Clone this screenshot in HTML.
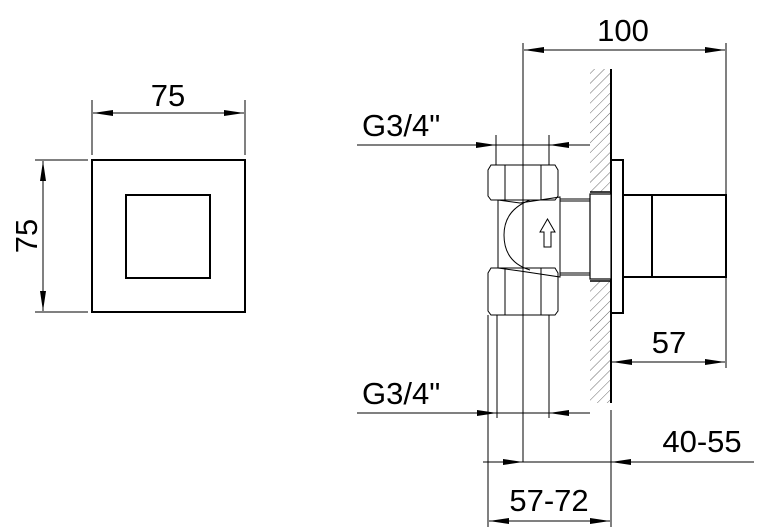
<!DOCTYPE html>
<html><head><style>
html,body{margin:0;padding:0;background:#fff;}
svg{display:block;}
text{font-family:"Liberation Sans",sans-serif;fill:#000;}
</style></head><body>
<svg width="762" height="527" viewBox="0 0 762 527" xmlns="http://www.w3.org/2000/svg">
<defs>
<marker id="a" viewBox="0 0 20 6" refX="20" refY="3" markerWidth="20" markerHeight="6" markerUnits="userSpaceOnUse" orient="auto-start-reverse">
<path d="M0,0 L20,3 L0,6 z" fill="#000"/>
</marker>
<pattern id="h" patternUnits="userSpaceOnUse" width="7" height="7" patternTransform="rotate(45)">
<line x1="0" y1="0" x2="0" y2="7" stroke="#444" stroke-width="0.8"/>
</pattern>
</defs>
<g stroke="#000" fill="none" stroke-width="1">
<rect x="92" y="160" width="153" height="152" stroke-width="2"/>
<rect x="126" y="195" width="84" height="83" stroke-width="2"/>
<line x1="92" y1="100" x2="92" y2="155"/>
<line x1="245" y1="100" x2="245" y2="155"/>
<line x1="93" y1="113" x2="244" y2="113" marker-start="url(#a)" marker-end="url(#a)"/>
<line x1="35" y1="160" x2="88" y2="160"/>
<line x1="35" y1="312" x2="88" y2="312"/>
<line x1="43" y1="161" x2="43" y2="311" marker-start="url(#a)" marker-end="url(#a)"/>

<rect x="590" y="69" width="20" height="123" fill="url(#h)" stroke="none"/>
<rect x="590" y="281" width="20" height="122" fill="url(#h)" stroke="none"/>
<line x1="611" y1="69" x2="611" y2="192" stroke-width="2"/>
<line x1="611" y1="281" x2="611" y2="403" stroke-width="2"/>
<line x1="590" y1="192" x2="610" y2="192" stroke-width="1.5"/>
<line x1="590" y1="281" x2="610" y2="281" stroke-width="1.5"/>

<rect x="611" y="160" width="12" height="153" stroke-width="2" fill="#fff"/>
<rect x="590" y="194" width="21" height="85" stroke-width="1.2" fill="#fff"/>
<rect x="623" y="195" width="29" height="82" stroke-width="2"/>
<rect x="652" y="195" width="74" height="82" stroke-width="2"/>

<line x1="560" y1="199" x2="590" y2="199"/><line x1="560" y1="201" x2="590" y2="201"/>
<line x1="560" y1="273" x2="590" y2="273"/><line x1="560" y1="275" x2="590" y2="275"/>
<path d="M498,200 L498,268 M498,200 L520,203 L560,197 L560,277 L520,271 L498,268"/>
<path d="M530,200 Q504,210 504,235 Q504,262 530,270"/>
<path d="M544,247 L544,232 L540,232 L547.5,219 L555,232 L551,232 L551,247 Z"/>
<path d="M491,165 L555,165 L558,170 L558,196 L555,200 L491,200 L488,196 L488,170 Z"/>
<line x1="505" y1="165" x2="505" y2="200"/><line x1="541" y1="165" x2="541" y2="200"/>
<path d="M491,268 L555,268 L558,273 L558,311 L555,315 L491,315 L488,311 L488,273 Z"/>
<line x1="505" y1="268" x2="505" y2="315"/><line x1="541" y1="268" x2="541" y2="315"/>

<line x1="523" y1="43" x2="523" y2="462"/>
<line x1="726" y1="43" x2="726" y2="368"/>
<line x1="496" y1="135" x2="496" y2="165"/><line x1="549" y1="135" x2="549" y2="165"/>
<line x1="488" y1="315" x2="488" y2="527"/>
<line x1="497" y1="315" x2="497" y2="418"/>
<line x1="549" y1="315" x2="549" y2="418"/>
<line x1="611" y1="410" x2="611" y2="527"/>

<line x1="524" y1="50" x2="725" y2="50" marker-start="url(#a)" marker-end="url(#a)"/>
<line x1="357" y1="145" x2="496" y2="145" marker-end="url(#a)"/>
<line x1="496" y1="145" x2="549" y2="145"/>
<line x1="590" y1="145" x2="549" y2="145" marker-end="url(#a)"/>
<line x1="612" y1="362" x2="725" y2="362" marker-start="url(#a)" marker-end="url(#a)"/>
<line x1="357" y1="413" x2="497" y2="413" marker-end="url(#a)"/>
<line x1="497" y1="413" x2="549" y2="413"/>
<line x1="590" y1="413" x2="549" y2="413" marker-end="url(#a)"/>
<line x1="483" y1="462" x2="523" y2="462" marker-end="url(#a)"/>
<line x1="523" y1="462" x2="611" y2="462"/>
<line x1="754" y1="462" x2="611" y2="462" marker-end="url(#a)"/>
<line x1="489" y1="521" x2="610" y2="521" marker-start="url(#a)" marker-end="url(#a)"/>
</g>
<g font-size="31">
<text x="168" y="106" text-anchor="middle">75</text>
<text x="0" y="0" text-anchor="middle" transform="translate(37,236) rotate(-90)">75</text>
<text x="623" y="41" text-anchor="middle">100</text>
<text x="362" y="136">G3/4"</text>
<text x="669" y="353" text-anchor="middle">57</text>
<text x="362" y="404">G3/4"</text>
<text x="702" y="452" text-anchor="middle">40-55</text>
<text x="549" y="511" text-anchor="middle">57-72</text>
</g>
</svg>
</body></html>
